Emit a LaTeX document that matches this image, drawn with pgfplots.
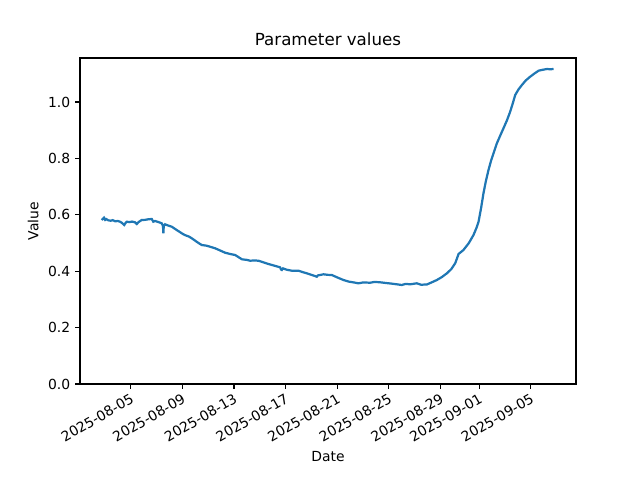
\documentclass[border=0pt]{standalone}
\usepackage{fontspec}
\setmainfont{DejaVu Sans}
\usepackage{pgfplots}
\pgfplotsset{compat=1.18}
\definecolor{mplblue}{HTML}{1F77B4}
\begin{document}
\begin{tikzpicture}
\path (-57.6pt,-69.12pt) rectangle (357.12pt+46.08pt,234.72pt+41.76pt);
\begin{axis}[
  at={(0,0)}, anchor=south west,
  scale only axis, width=357.12pt, height=234.72pt,
  xmin=0.07, xmax=38.5, ymin=0, ymax=1.156,
  axis line style={line width=0.8pt},
  tick align=outside, xtick pos=bottom, ytick pos=left,
  major tick length=3.5pt,
  every tick/.style={black, line width=0.8pt},
  xtick={4,8,12,16,20,24,28,31,35},
  xticklabels={2025-08-05,2025-08-09,2025-08-13,2025-08-17,2025-08-21,2025-08-25,2025-08-29,2025-09-01,2025-09-05},
  xticklabel style={rotate=30, anchor=north east, font=\fontsize{10}{12}\selectfont, inner sep=2pt},
  ytick={0,0.2,0.4,0.6,0.8,1.0},
  yticklabel style={font=\fontsize{10}{12}\selectfont},
  /pgf/number format/assume math mode=true,
  yticklabel={\pgfmathprintnumber[fixed,fixed zerofill,precision=1]{\tick}},
  title={Parameter values},
  title style={font=\fontsize{12}{14}\selectfont, yshift=-1pt},
  xlabel={Date}, ylabel={Value},
  label style={font=\fontsize{10}{12}\selectfont},
]
\addplot[mplblue, line width=1.6pt] coordinates {
(1.75,0.5816) (1.85,0.586) (1.93,0.5897) (2.02,0.582) (2.10,0.585) (2.26,0.5805) (2.45,0.579) (2.60,0.581) (2.80,0.577) (3.00,0.578) (3.17,0.5755) (3.30,0.572) (3.50,0.5638) (3.60,0.571) (3.69,0.5755) (3.90,0.574) (4.10,0.576) (4.33,0.5734) (4.47,0.5674) (4.60,0.574) (4.85,0.5816) (5.10,0.582) (5.35,0.584) (5.63,0.5851) (5.75,0.5755) (5.88,0.578) (6.10,0.575) (6.40,0.5699) (6.50,0.560) (6.53,0.5344) (6.56,0.560) (6.66,0.5663) (6.90,0.562) (7.18,0.5578) (7.40,0.551) (7.70,0.542) (7.95,0.5344) (8.20,0.528) (8.50,0.523) (8.73,0.5167) (9.00,0.508) (9.25,0.500) (9.50,0.4929) (9.89,0.4904) (10.20,0.486) (10.54,0.4812) (10.90,0.474) (11.31,0.4656) (11.70,0.461) (12.09,0.4574) (12.35,0.450) (12.61,0.4422) (13.00,0.440) (13.25,0.4372) (13.60,0.438) (13.89,0.4372) (14.30,0.431) (14.67,0.4255) (15.10,0.420) (15.57,0.4138) (15.65,0.406) (15.71,0.4043) (15.80,0.410) (16.10,0.405) (16.48,0.4018) (16.99,0.4018) (17.30,0.397) (17.64,0.3926) (18.00,0.387) (18.42,0.3805) (18.50,0.385) (18.93,0.389) (19.30,0.387) (19.58,0.3865) (20.00,0.378) (20.48,0.3688) (20.90,0.363) (21.30,0.360) (21.64,0.3571) (22.00,0.360) (22.55,0.3592) (22.90,0.362) (23.33,0.3606) (23.80,0.358) (24.20,0.356) (24.62,0.3535) (25.00,0.351) (25.30,0.355) (25.65,0.3535) (26.17,0.3571) (26.50,0.352) (26.95,0.353) (27.30,0.360) (27.72,0.3688) (28.10,0.379) (28.50,0.3926) (28.85,0.408) (29.14,0.428) (29.30,0.448) (29.40,0.461) (29.78,0.4752) (30.20,0.500) (30.56,0.5284) (30.80,0.555) (30.95,0.5755) (31.15,0.625) (31.33,0.6762) (31.52,0.720) (31.72,0.7589) (31.92,0.792) (32.11,0.818) (32.37,0.8535) (32.62,0.880) (32.88,0.9067) (33.15,0.935) (33.40,0.9656) (33.60,0.995) (33.79,1.0248) (34.05,1.045) (34.31,1.0603) (34.60,1.076) (34.95,1.0897) (35.25,1.100) (35.60,1.111) (35.90,1.114) (36.25,1.117) (36.50,1.116) (36.76,1.117)
};
\end{axis}
\end{tikzpicture}
\end{document}
